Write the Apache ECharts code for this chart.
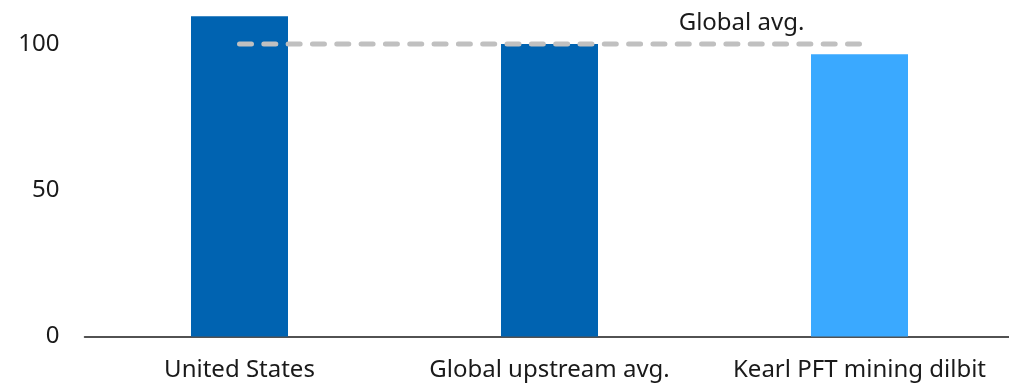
<!DOCTYPE html>
<html>
<head>
<meta charset="utf-8">
<script src="https://cdn.jsdelivr.net/npm/echarts@6/dist/echarts.min.js"></script>
<style>
  html, body { margin: 0; padding: 0; background: #fff; }
  #chart { width: 1009px; height: 384px; }
</style>
</head>
<body>
<div id="chart"></div>
<script>
// Categories and values
const categories = ['United States', 'Global upstream avg.', 'Kearl PFT mining dilbit'];
const values = [109.5, 100, 96.5];
const globalAvg = [100, 100, 100];
const yTicks = [0, 50, 100];

const darkBlue = '#0063B1';
const lightBlue = '#3AA9FF';
const barColors = [darkBlue, darkBlue, lightBlue];
const fontFamily = '"Noto Sans", "Open Sans", sans-serif';

const chart = echarts.init(document.getElementById('chart'), null, { renderer: 'canvas' });

chart.setOption({
  animation: false,
  grid: {
    left: 84.5, width: 930, top: 14.75, bottom: 47.5,
    containLabel: false,
    outerBoundsMode: 'none'
  },
  xAxis: {
    type: 'category',
    data: categories,
    axisLine: { show: true, lineStyle: { color: '#1a1a1a', width: 1.5 } },
    axisTick: { show: false },
    axisLabel: { color: '#1a1a1a', fontSize: 24, fontFamily: fontFamily, margin: 22, interval: 0 }
  },
  yAxis: {
    type: 'value',
    min: 0,
    max: 110,
    interval: 50,
    axisLine: { show: false },
    axisTick: { show: false },
    splitLine: { show: false },
    axisLabel: {
      color: '#1a1a1a', fontSize: 24, fontFamily: fontFamily, margin: 25,
      showMaxLabel: false,
      formatter: v => (yTicks.indexOf(v) >= 0 ? String(v) : '')
    }
  },
  series: [
    {
      type: 'bar',
      barWidth: 97,
      data: values.map((v, i) => ({ value: v, itemStyle: { color: barColors[i] } })),
      z: 2
    },
    {
      name: 'Global avg.',
      type: 'line',
      data: globalAvg,
      symbol: 'none',
      z: 3,
      lineStyle: { color: '#c0c0c0', width: 5, type: [12, 12.32], cap: 'round' },
      label: { show: false },
      endLabel: {
        show: true,
        formatter: 'Global avg.',
        color: '#1a1a1a',
        fontSize: 24,
        fontFamily: fontFamily,
        align: 'center',
        verticalAlign: 'middle',
        offset: [-118, -21],
        distance: 0
      }
    }
  ]
});
</script>
</body>
</html>
